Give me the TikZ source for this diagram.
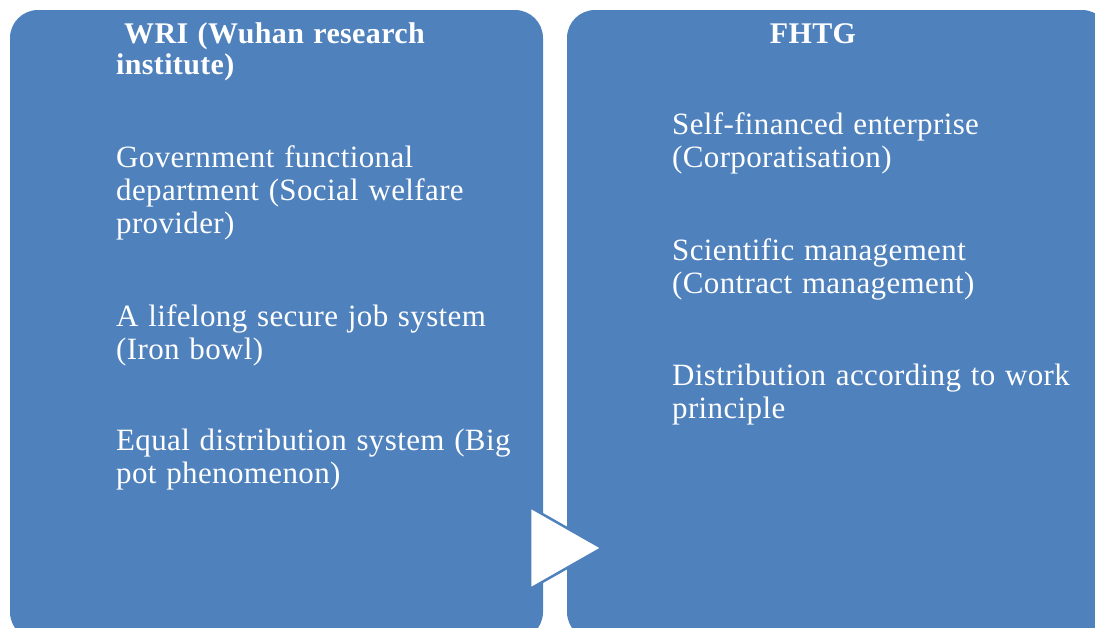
\documentclass[tikz,border=0pt]{standalone}
\usepackage{fontspec}
\setmainfont[WordSpace=1.2, LetterSpace=1.2]{Liberation Serif}
\definecolor{boxblue}{HTML}{4F81BD}
\tikzset{
  box/.style={fill=boxblue, draw=none, rounded corners=28pt, inner sep=0pt},
  txt/.style={anchor=base west, inner sep=0pt, text=white, font=\fontsize{31}{33}\selectfont},
  ttl/.style={txt, font=\fontsize{30}{33}\selectfont\bfseries},
}
\begin{document}
\begin{tikzpicture}[x=1pt,y=-1pt]
\useasboundingbox (0,0) rectangle (1095,627);
\clip (0,0) rectangle (1095,627);
\node[box, minimum width=533pt, minimum height=630pt] (L) at (276.5,325) {};
\node[box, minimum width=543pt, minimum height=630pt] (R) at (838.5,325) {};
% left texts
\node[ttl] (l1) at (124,43) {WRI (Wuhan research};
\node[ttl] (l2) at (116,74) {institute)};
\node[txt] (l3) at (116,167) {Government functional};
\node[txt] (l4) at (116,200) {department (Social welfare};
\node[txt] (l5) at (116,233) {provider)};
\node[txt] (l6) at (116,326) {A lifelong secure job system};
\node[txt] (l7) at (116,359) {(Iron bowl)};
\node[txt] (l8) at (116,450) {Equal distribution system (Big};
\node[txt] (l9) at (116,483) {pot phenomenon)};
% right texts
\node[ttl, anchor=base] (r1) at (813,43) {FHTG};
\node[txt] (r2) at (672,134) {Self-financed enterprise};
\node[txt] (r3) at (672,167) {(Corporatisation)};
\node[txt] (r4) at (672,260) {Scientific management};
\node[txt] (r5) at (672,293) {(Contract management)};
\node[txt] (r6) at (672,385) {Distribution according to work};
\node[txt] (r7) at (672,418) {principle};
% arrow triangle
\draw[fill=white, draw=boxblue, line width=2.5pt, line join=miter] (530,507) -- (602,548) -- (530,589) -- cycle;
\end{tikzpicture}
\end{document}
